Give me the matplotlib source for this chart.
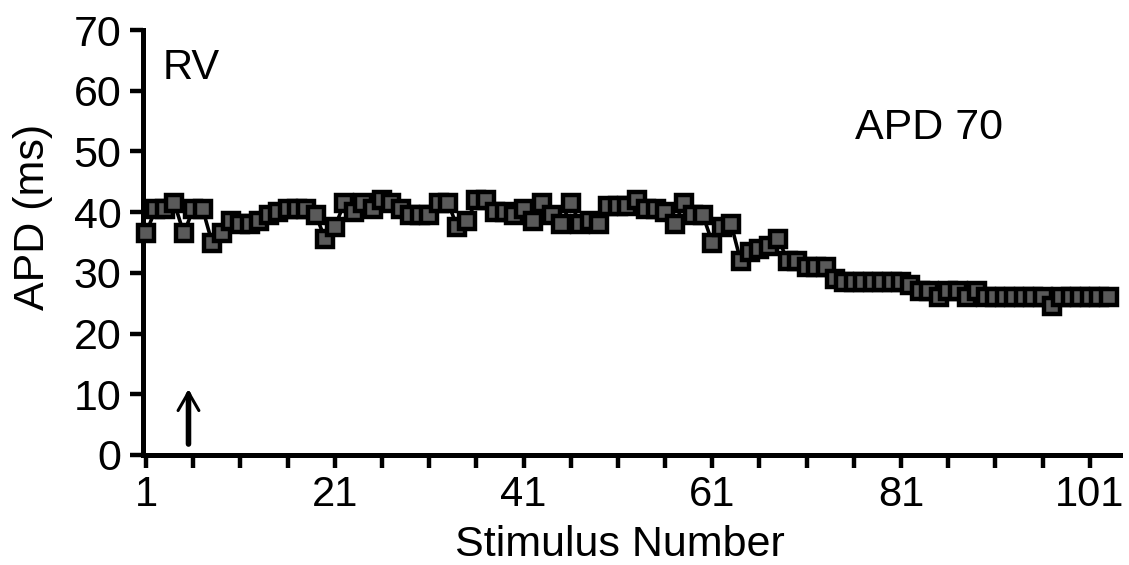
import matplotlib
matplotlib.use("Agg")
import matplotlib.pyplot as plt
import numpy as np

plt.rcParams['font.family'] = ['Liberation Sans', 'DejaVu Sans']

# Data
apd70 = [36.5, 40.5, 40.5, 41.5, 36.5, 40.5, 40.5, 35, 36.5, 38.5,
         38, 38, 38.5, 39.5, 40, 40.5, 40.5, 40.5, 39.5, 35.5,
         37.5, 41.5, 40, 41.5, 40.5, 42, 41.5, 40.5, 39.5, 39.5,
         39.5, 41.5, 41.5, 37.5, 38.5, 42, 42, 40, 40, 39.5,
         40.5, 38.5, 41.5, 39.5, 38, 41.5, 38, 38.5, 38, 41,
         41, 41, 42, 40.5, 40.5, 40, 38, 41.5, 39.5, 39.5,
         35, 37.5, 38, 32, 33.5, 34, 34.5, 35.5, 32, 32,
         31, 31, 31, 29, 28.5, 28.5, 28.5, 28.5, 28.5, 28.5,
         28.5, 28, 27, 27, 26, 27, 27, 26, 27, 26,
         26, 26, 26, 26, 26, 26, 24.5, 26, 26, 26,
         26, 26, 26]
stimulus = list(range(1, len(apd70) + 1))
x_ticks = list(range(1, 102, 5))
x_labels = ['1', '21', '41', '61', '81', '101']
y_ticks = [0, 10, 20, 30, 40, 50, 60, 70]
arrow_x = 5.5

fig = plt.figure(figsize=(11.29, 5.65), dpi=100)
ax = fig.add_axes([143/1129, 110/565, (1120-143)/1129, (455-30)/565])

ax.plot(stimulus, apd70, color='black', lw=2.6, marker='s', markersize=11.5,
        markerfacecolor='#5a5a5a', markeredgecolor='black', markeredgewidth=3.2,
        clip_on=False, zorder=3)

ax.set_xlim(0.68, 104.2)
ax.set_ylim(0, 70)
ax.set_xticks(x_ticks)
ax.set_xticklabels([str(t) if str(t) in x_labels else '' for t in x_ticks])
ax.set_yticks(y_ticks)

for s in ['top', 'right']:
    ax.spines[s].set_visible(False)
for s in ['left', 'bottom']:
    ax.spines[s].set_linewidth(3.6)
ax.tick_params(axis='both', direction='out', length=9.5, width=3.2)
ax.tick_params(axis='y', pad=6, labelsize=31)
ax.tick_params(axis='x', pad=5, labelsize=30)

ax.set_xlabel('Stimulus Number', fontsize=31)
ax.set_ylabel('APD (ms)', fontsize=31)
ax.xaxis.set_label_coords(0.488, -0.212)
ax.xaxis.label.set_va('center')
ax.yaxis.set_label_coords(-0.113, 0.56)
ax.yaxis.label.set_va('center')

ax.text(2.8, 63.8, 'RV', fontsize=30, ha='left', va='center')
ax.text(76.1, 53.9, 'APD 70', fontsize=31, ha='left', va='center')

# arrow: shaft + open head
ax.annotate('', xy=(arrow_x, 10.0), xytext=(arrow_x, 1.8),
            arrowprops=dict(arrowstyle='-', lw=4.0, color='black', shrinkA=0, shrinkB=0))
ax.annotate('', xy=(arrow_x, 10.8), xytext=(arrow_x, 5.0),
            arrowprops=dict(arrowstyle='->,head_length=1.3,head_width=0.75', lw=2.2,
                            color='black', shrinkA=0, shrinkB=0))

fig.savefig('out.png', dpi=100)
